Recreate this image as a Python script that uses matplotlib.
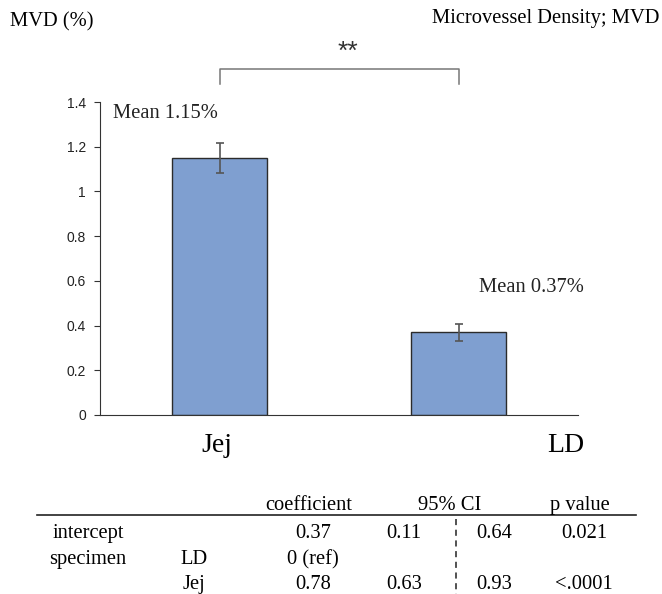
import matplotlib
matplotlib.use("Agg")
import matplotlib.pyplot as plt

# data
groups = ["Jej", "LD"]
means = [1.15, 0.37]
errs = [0.067, 0.037]
mean_labels = ["Mean 1.15%", "Mean 0.37%"]
yticks = [0, 0.2, 0.4, 0.6, 0.8, 1, 1.2, 1.4]

tab_header = ["coefficient", "95% CI", "p value"]
tab_rows = [
    ["intercept", "", "0.37", "0.11", "0.64", "0.021"],
    ["specimen", "LD", "0 (ref)", "", "", ""],
    ["", "Jej", "0.78", "0.63", "0.93", "<.0001"],
]

W, H = 662, 594
serif = "Liberation Serif"
sans = "Liberation Sans"
fs = 14.8

fig = plt.figure(figsize=(W / 100, H / 100), dpi=100)
ax = fig.add_axes([100 / W, 1 - 415 / H, 478 / W, 313 / H])

x = range(len(groups))
ax.bar(x, means, width=0.4, color="#7f9fd0", edgecolor="#2b2b2b", linewidth=1.0, zorder=2)
ax.errorbar(x, means, yerr=errs, fmt="none", ecolor="#555555", elinewidth=1.2,
            capsize=3, capthick=1.2, zorder=3)

ax.set_xlim(-0.5, 1.5)
ax.set_ylim(0, 1.4)
ax.set_yticks(yticks)
ax.set_yticklabels([f"{v:g}" for v in yticks], fontfamily=sans, fontsize=10, color="#222222")
ax.set_xticks([])
for s in ["top", "right"]:
    ax.spines[s].set_visible(False)
ax.spines["left"].set_color("#333333")
ax.spines["bottom"].set_color("#333333")
ax.tick_params(axis="y", length=4, color="#333333", pad=6)

# category labels
fig.text(217 / W, 1 - 452 / H, groups[0], ha="center", va="baseline", fontfamily=serif, fontsize=20)
fig.text(566 / W, 1 - 452 / H, groups[1], ha="center", va="baseline", fontfamily=serif, fontsize=20)

# mean annotations
ax.text(-0.446, 1.328, mean_labels[0], ha="left", va="baseline", fontfamily=serif, fontsize=fs, color="#222222")
ax.text(1.086, 0.551, mean_labels[1], ha="left", va="baseline", fontfamily=serif, fontsize=fs, color="#222222")

# significance bracket
ax.plot([0, 0, 1, 1], [1.48, 1.548, 1.548, 1.48], color="#777777", lw=1.1, clip_on=False)
fig.text(348 / W, 1 - 52 / H, "**", ha="center", va="center", fontfamily=sans, fontsize=19, color="#333333")

fig.text(10 / W, 1 - 22 / H, "MVD (%)", ha="left", va="center", fontfamily=serif, fontsize=fs)
fig.text(660 / W, 1 - 18 / H, "Microvessel Density; MVD", ha="right", va="center", fontfamily=serif, fontsize=fs)

# table
hx = [309, 450, 580]
for t, xx in zip(tab_header, hx):
    fig.text(xx / W, 1 - 510 / H, t, ha="center", va="baseline", fontfamily=serif, fontsize=fs)
fig.add_artist(plt.Line2D([37 / W, 636 / W], [1 - 515 / H, 1 - 515 / H], color="#222222", lw=1.2))
cx = [88, 194, 313, 404, 494, 584]
ry = [538, 564, 589]
for row, yy in zip(tab_rows, ry):
    for t, xx in zip(row, cx):
        if t:
            fig.text(xx / W, 1 - yy / H, t, ha="center", va="baseline", fontfamily=serif, fontsize=fs)
fig.add_artist(plt.Line2D([456 / W, 456 / W], [1 - 519 / H, 1 - 594 / H], color="#222222",
                          lw=1.1, linestyle=(0, (4, 3))))

fig.savefig("out.png", dpi=100)
